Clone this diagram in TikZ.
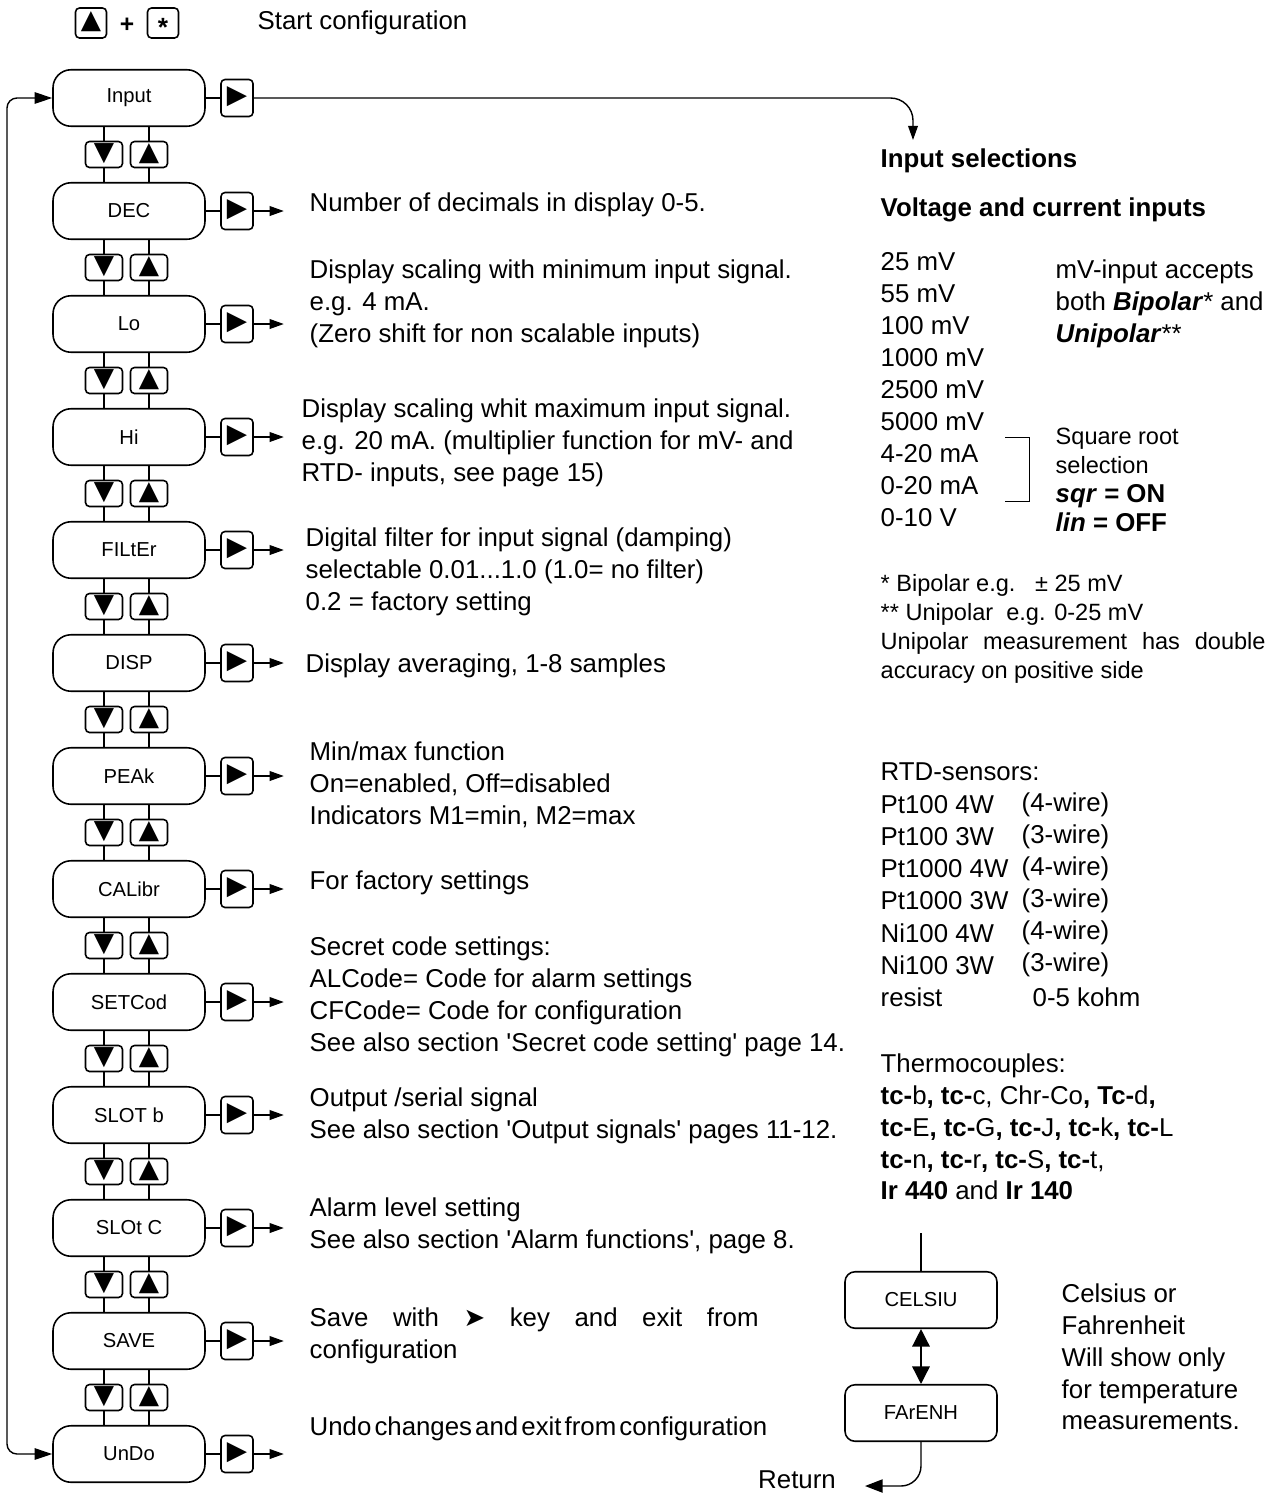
\documentclass[tikz,border=0pt]{standalone}
\usepackage{fontspec}
\setmainfont{Liberation Sans}
\newfontfamily\symb{DejaVu Sans}
\usetikzlibrary{arrows.meta}

\newcommand{\tcb}{\textbf{tc-}}

\tikzset{
  menu/.style={draw, line width=0.9pt, rounded corners=0.36cm, minimum width=3.04cm, minimum height=1.13cm, font=\fontsize{11.5}{14}\selectfont},
  unit/.style={draw, line width=0.9pt, rounded corners=0.2cm, minimum width=3.04cm, minimum height=1.13cm, font=\fontsize{11.5}{14}\selectfont},
  key/.style={draw, line width=0.9pt, rounded corners=0.08cm, inner sep=0pt, font=\symb\fontsize{15}{15}\selectfont},
  vkey/.style={key, minimum width=0.74cm, minimum height=0.52cm, text height=0.25cm, text depth=0.02cm},
  hkey/.style={key, minimum width=0.64cm, minimum height=0.74cm, text height=0.25cm, text depth=0.02cm},
  tkey/.style={key, minimum width=0.62cm, minimum height=0.6cm, text height=0.25cm, text depth=0.02cm},
  txt/.style={anchor=west, align=left, inner sep=0pt, font=\fontsize{14.7}{18.1}\selectfont},
  small/.style={txt, font=\fontsize{13.4}{16.4}\selectfont},
  head/.style={txt, font=\bfseries\fontsize{14.7}{18.1}\selectfont}
}

\begin{document}
\begin{tikzpicture}[x=0.02cm, y=-0.02cm, line width=0.8pt, >={Triangle[length=8pt,width=5.5pt]}]
\useasboundingbox (0,0) rectangle (1273,1495);

% start keys
\node[tkey] (ka) at (91,23) {▲};
\node[inner sep=0pt, font=\bfseries\fontsize{14}{14}\selectfont] (plus) at (127,25) {+};
\node[tkey, font=\bfseries\fontsize{15}{15}\selectfont] (ks) at (163,23) {\raisebox{-0.3em}{*}};
\node[txt] (start) at (257,23) {Start configuration};

% menu column
\foreach \n [count=\i] in {Input,DEC,Lo,Hi,FILtEr,DISP,PEAk,CALibr,SETCod,SLOT b,SLOt C,SAVE,UnDo} {
  \node[menu] (m\i) at (129,{98+113*(\i-1)}) {\n};
  \node[hkey] (r\i) at (237,{98+113*(\i-1)}) {▶};
  \draw (m\i.east) -- (r\i.west);
}
\foreach \i in {2,...,13} \draw[->] (r\i.east) -- ++(30,0);
\foreach \i [count=\j from 2] in {1,...,12} {
  \node[vkey] (dn\i) at (104,{154.5+113*(\i-1)}) {▼};
  \node[vkey] (up\i) at (149,{154.5+113*(\i-1)}) {▲};
  \draw (dn\i |- m\i.south) -- (dn\i) -- (dn\i |- m\j.north);
  \draw (up\i |- m\i.south) -- (up\i) -- (up\i |- m\j.north);
}

% loops
\coordinate (sel) at (913,140);
\draw[->, rounded corners=0.45cm] (r1.east) -| (sel);
\coordinate (back) at (7,776);
\draw[{Triangle[length=10pt,width=6.5pt]}-{Triangle[length=10pt,width=6.5pt]}, rounded corners=0.2cm] (m13.west) -| (back) |- (m1.west);

% descriptions
\node[txt] (d2) at (309,205) {Number of decimals in display 0-5.};
\node[txt] (d3) at (309,304) {Display scaling with minimum input signal.\\e.g. 4 mA.\\(Zero shift for non scalable inputs)};
\node[txt] (d4) at (301,443) {Display scaling whit maximum input signal.\\e.g. 20 mA. (multiplier function for mV- and\\RTD- inputs, see page 15)};
\node[txt] (d5) at (305,572) {Digital filter for input signal (damping)\\selectable 0.01...1.0 (1.0= no filter)\\0.2 = factory setting};
\node[txt] (d6) at (305,666) {Display averaging, 1-8 samples};
\node[txt] (d7) at (309,785) {Min/max function\\On=enabled, Off=disabled\\Indicators M1=min, M2=max};
\node[txt] (d8) at (309,883) {For factory settings};
\node[txt] (d9) at (309,997) {Secret code settings:\\ALCode= Code for alarm settings\\CFCode= Code for configuration\\See also section \textquotesingle Secret code setting\textquotesingle\ page 14.};
\node[txt] (d10) at (309,1116) {Output /serial signal\\See also section \textquotesingle Output signals\textquotesingle\ pages 11-12.};
\node[txt] (d11) at (309,1226) {Alarm level setting\\See also section \textquotesingle Alarm functions\textquotesingle, page 8.};
\node[txt] (d12) at (309,1336) {\makebox[8.98cm][s]{Save with {\symb ➤} key and exit from}\\configuration};
\node[txt] (d13) at (309,1429) {\spaceskip=0.12em Undo changes and exit from configuration};

% input selections
\node[head] (isel) at (880,161) {Input selections};
\node[head] (vci) at (880,210) {Voltage and current inputs};
\foreach \v [count=\i] in {25 mV,55 mV,100 mV,1000 mV,2500 mV,5000 mV,4-20 mA,0-20 mA,0-10 V}
  \node[txt] (v\i) at (880,{262+32*(\i-1)}) {\v};
\node[txt] (mvin) at (1055,304) {mV-input accepts\\both \textbf{\textit{Bipolar}}* and\\\textbf{\textit{Unipolar}}**};
\draw[line width=0.5pt] (1005,437) -| (1029,501) -- (1005,501);
\node[small] (sqrt) at (1055,480) {Square root\\selection\\{\fontsize{14.7}{16.4}\selectfont\textbf{\textit{sqr}} \textbf{= ON}}\\{\fontsize{14.7}{16.4}\selectfont\textbf{\textit{lin}} \textbf{= OFF}}};
\node[small] (fn) at (880,629) {* Bipolar e.g.\ \ \ ± 25 mV\\** Unipolar\ \ e.g. 0-25 mV\\\makebox[7.7cm][s]{Unipolar measurement has double}\\accuracy on positive side};

% sensors
\node[txt] (rtd) at (880,772) {RTD-sensors:};
\foreach \a/\b [count=\i] in {Pt100 4W/(4-wire),Pt100 3W/(3-wire),Pt1000 4W/(4-wire),Pt1000 3W/(3-wire),Ni100 4W/(4-wire),Ni100 3W/(3-wire)} {
  \node[txt] (s\i) at (880,{805+32*(\i-1)}) {\a};
  \node[txt] (w\i) at (1021,{805+32*(\i-1)}) {\b};
}
\node[txt] (res) at (880,997) {resist};
\node[txt] (kohm) at (1032,997) {0-5 kohm};
\node[txt] (tc) at (880,1127) {Thermocouples:\\\tcb b\textbf{,} \tcb c, Chr-Co\textbf{,} \textbf{Tc-}d\textbf{,}\\\tcb E\textbf{,} \tcb G\textbf{,} \tcb J\textbf{,} \tcb k\textbf{,} \tcb L\\\tcb n\textbf{,} \tcb r\textbf{,} \tcb S\textbf{,} \tcb t,\\\textbf{Ir 440} and \textbf{Ir 140}};

% temperature unit
\coordinate (tin) at (921,1233);
\node[unit] (cel) at (921,1300) {CELSIU};
\node[unit] (far) at (921,1413) {FArENH};
\draw (tin) -- (cel);
\draw[{Triangle[length=10pt,width=10pt]}-{Triangle[length=10pt,width=10pt]}] (cel) -- (far);
\node[txt, anchor=center] (ret) at (797,1480) {Return};
\coordinate (rtip) at (865,1486);
\draw[{Triangle[length=10pt,width=7.5pt]}-, rounded corners=0.4cm] (rtip) -| (far.south);
\node[txt] (cf) at (1061,1357) {Celsius or\\Fahrenheit\\Will show only\\for temperature\\measurements.};
\end{tikzpicture}
\end{document}
